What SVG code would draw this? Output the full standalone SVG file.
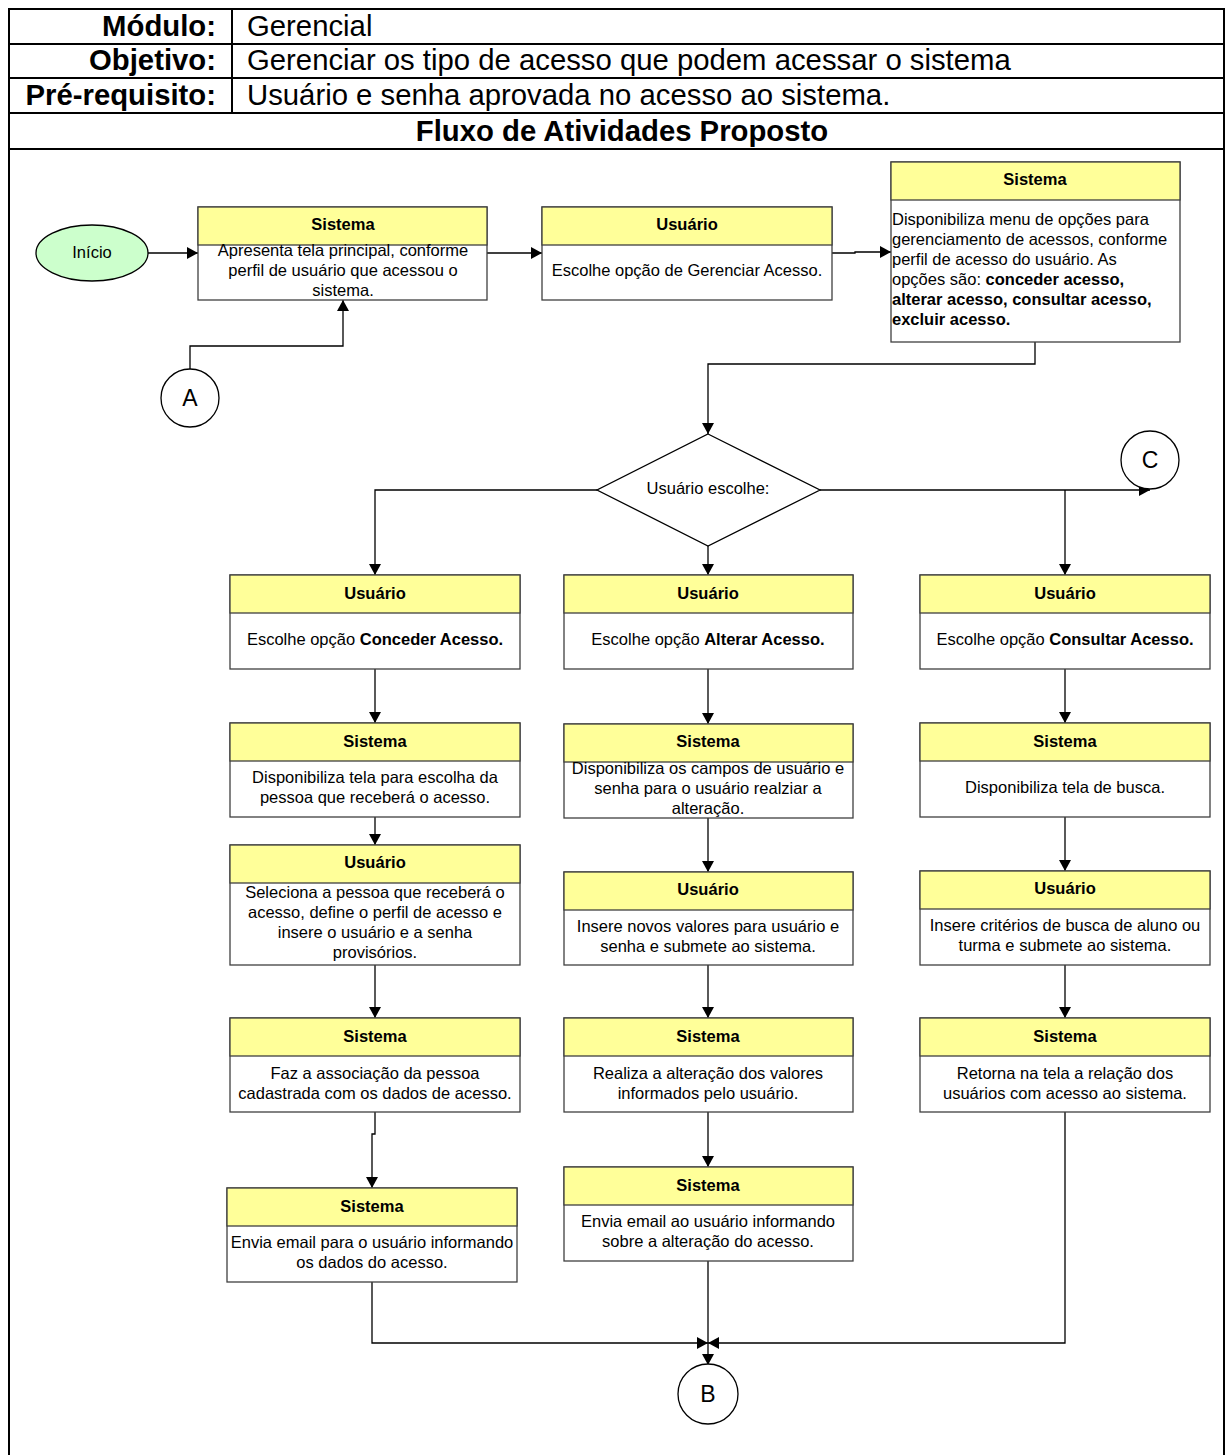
<svg xmlns="http://www.w3.org/2000/svg" width="1225" height="1455" viewBox="0 0 1225 1455">
<defs>
<marker id="arr" markerUnits="userSpaceOnUse" markerWidth="12" markerHeight="12" refX="11" refY="6" orient="auto">
<path d="M0,0 L11,6 L0,12 z" fill="#000"/>
</marker>
<style>
.frame{stroke:#000;stroke-width:2;fill:none}
.hl{font-family:"Liberation Sans",Arial,sans-serif;font-size:29.3px;font-weight:bold;text-anchor:end;fill:#000}
.hv{font-family:"Liberation Sans",Arial,sans-serif;font-size:29.3px;fill:#000}
.ht{font-family:"Liberation Sans",Arial,sans-serif;font-size:29.3px;font-weight:bold;text-anchor:middle;fill:#000}
.box{fill:#fff;stroke:#404040;stroke-width:1.3}
.hdr{fill:#ffff99;stroke:#404040;stroke-width:1.3}
.tt{font-family:"Liberation Sans",Arial,sans-serif;font-size:16.5px;font-weight:bold;text-anchor:middle;fill:#000}
.bt{font-family:"Liberation Sans",Arial,sans-serif;font-size:16.5px;text-anchor:middle;fill:#000}
.btl{font-family:"Liberation Sans",Arial,sans-serif;font-size:16.5px;fill:#000}
.b{font-weight:bold}
.con{stroke:#000;stroke-width:1.3;fill:none}
.arw{marker-end:url(#arr)}
.circ{fill:#fff;stroke:#000;stroke-width:1.3}
.ct{font-family:"Liberation Sans",Arial,sans-serif;font-size:23px;text-anchor:middle;fill:#000}
</style>
</defs>
<rect width="1225" height="1455" fill="#fff"/>
<g id="header">
<line class="frame" x1="9" y1="9" x2="1225" y2="9"/>
<line class="frame" x1="9" y1="44" x2="1225" y2="44"/>
<line class="frame" x1="9" y1="78" x2="1225" y2="78"/>
<line class="frame" x1="9" y1="113" x2="1225" y2="113"/>
<line class="frame" x1="9" y1="149" x2="1225" y2="149"/>
<line class="frame" x1="9" y1="8" x2="9" y2="1455"/>
<line class="frame" x1="1224" y1="8" x2="1224" y2="1455"/>
<line class="frame" x1="232" y1="9" x2="232" y2="113"/>
<text class="hl" x="216" y="36">Módulo:</text>
<text class="hv" x="247" y="36">Gerencial</text>
<text class="hl" x="216" y="70">Objetivo:</text>
<text class="hv" x="247" y="70">Gerenciar os tipo de acesso que podem acessar o sistema</text>
<text class="hl" x="216" y="105">Pré-requisito:</text>
<text class="hv" x="247" y="105">Usuário e senha aprovada no acesso ao sistema.</text>
<text class="ht" x="622" y="141">Fluxo de Atividades Proposto</text>
</g>
<g id="connectors">
<line class="con arw" x1="148" y1="253" x2="198" y2="253"/>
<line class="con arw" x1="487" y1="253" x2="542" y2="253"/>
<polyline class="con arw" points="832,253 855,253 855,252 891,252"/>
<polyline class="con arw" points="190,369 190,346 343,346 343,300"/>
<polyline class="con arw" points="1035,342 1035,364 708,364 708,434"/>
<polyline class="con arw" points="597,490 375,490 375,575"/>
<line class="con arw" x1="708" y1="546" x2="708" y2="575"/>
<line class="con arw" x1="820" y1="490" x2="1150" y2="490"/>
<line class="con arw" x1="1065" y1="490" x2="1065" y2="575"/>
<line class="con arw" x1="375" y1="669" x2="375" y2="723"/>
<line class="con arw" x1="375" y1="817" x2="375" y2="845"/>
<line class="con arw" x1="375" y1="965" x2="375" y2="1018"/>
<polyline class="con arw" points="375,1112 375,1134 372,1134 372,1188"/>
<polyline class="con arw" points="372,1282 372,1343 708,1343"/>
<line class="con arw" x1="708" y1="669" x2="708" y2="724"/>
<line class="con arw" x1="708" y1="818" x2="708" y2="872"/>
<line class="con arw" x1="708" y1="965" x2="708" y2="1018"/>
<line class="con arw" x1="708" y1="1112" x2="708" y2="1167"/>
<line class="con arw" x1="708" y1="1261" x2="708" y2="1365"/>
<line class="con arw" x1="1065" y1="669" x2="1065" y2="723"/>
<line class="con arw" x1="1065" y1="817" x2="1065" y2="871"/>
<line class="con arw" x1="1065" y1="965" x2="1065" y2="1018"/>
<polyline class="con arw" points="1065,1112 1065,1343 708,1343"/>
</g>
<g id="inicio">
<ellipse cx="92" cy="253" rx="56" ry="28" fill="#ccffcc" stroke="#000" stroke-width="1.3"/>
<text class="bt" x="92" y="258">Início</text>
</g>
<g id="connA">
<circle class="circ" cx="190" cy="398" r="29"/>
<text class="ct" x="190" y="406">A</text>
</g>
<g id="connC">
<circle class="circ" cx="1150" cy="460" r="29"/>
<text class="ct" x="1150" y="468">C</text>
</g>
<g id="connB">
<circle class="circ" cx="708" cy="1394" r="30"/>
<text class="ct" x="708" y="1402">B</text>
</g>
<g id="n1">
<rect class="box" x="198" y="207" width="289" height="93"/>
<rect class="hdr" x="198" y="207" width="289" height="38"/>
<text class="tt" x="343" y="230">Sistema</text>
<text class="bt" x="343" y="256">Apresenta tela principal, conforme</text>
<text class="bt" x="343" y="276">perfil de usuário que acessou o</text>
<text class="bt" x="343" y="296">sistema.</text>
</g>
<g id="n2">
<rect class="box" x="542" y="207" width="290" height="93"/>
<rect class="hdr" x="542" y="207" width="290" height="38"/>
<text class="tt" x="687" y="230">Usuário</text>
<text class="bt" x="687" y="276">Escolhe opção de Gerenciar Acesso.</text>
</g>
<g id="n3">
<rect class="box" x="891" y="162" width="289" height="180"/>
<rect class="hdr" x="891" y="162" width="289" height="38"/>
<text class="tt" x="1035" y="185">Sistema</text>
<text class="btl" x="892" y="225">Disponibiliza menu de opções para</text>
<text class="btl" x="892" y="245">gerenciamento de acessos, conforme</text>
<text class="btl" x="892" y="265">perfil de acesso do usuário. As</text>
<text class="btl" x="892" y="285">opções são: <tspan class="b">conceder acesso,</tspan></text>
<text class="btl b" x="892" y="305">alterar acesso, consultar acesso,</text>
<text class="btl b" x="892" y="325">excluir acesso.</text>
</g>
<g id="decisao">
<polygon points="708,434 820,490 708,546 597,490" fill="#fff" stroke="#000" stroke-width="1.3"/>
<text class="bt" x="708" y="494">Usuário escolhe:</text>
</g>
<g id="l1">
<rect class="box" x="230" y="575" width="290" height="94"/>
<rect class="hdr" x="230" y="575" width="290" height="38"/>
<text class="tt" x="375" y="599">Usuário</text>
<text class="bt" x="375" y="645">Escolhe opção <tspan class="b">Conceder Acesso.</tspan></text>
</g>
<g id="l2">
<rect class="box" x="230" y="723" width="290" height="94"/>
<rect class="hdr" x="230" y="723" width="290" height="38"/>
<text class="tt" x="375" y="747">Sistema</text>
<text class="bt" x="375" y="783">Disponibiliza tela para escolha da</text>
<text class="bt" x="375" y="803">pessoa que receberá o acesso.</text>
</g>
<g id="l3">
<rect class="box" x="230" y="845" width="290" height="120"/>
<rect class="hdr" x="230" y="845" width="290" height="38"/>
<text class="tt" x="375" y="868">Usuário</text>
<text class="bt" x="375" y="898">Seleciona a pessoa que receberá o</text>
<text class="bt" x="375" y="918">acesso, define o perfil de acesso e</text>
<text class="bt" x="375" y="938">insere o usuário e a senha</text>
<text class="bt" x="375" y="958">provisórios.</text>
</g>
<g id="l4">
<rect class="box" x="230" y="1018" width="290" height="94"/>
<rect class="hdr" x="230" y="1018" width="290" height="38"/>
<text class="tt" x="375" y="1042">Sistema</text>
<text class="bt" x="375" y="1079">Faz a associação da pessoa</text>
<text class="bt" x="375" y="1099">cadastrada com os dados de acesso.</text>
</g>
<g id="l5">
<rect class="box" x="227" y="1188" width="290" height="94"/>
<rect class="hdr" x="227" y="1188" width="290" height="38"/>
<text class="tt" x="372" y="1212">Sistema</text>
<text class="bt" x="372" y="1248">Envia email para o usuário informando</text>
<text class="bt" x="372" y="1268">os dados do acesso.</text>
</g>
<g id="m1">
<rect class="box" x="564" y="575" width="289" height="94"/>
<rect class="hdr" x="564" y="575" width="289" height="38"/>
<text class="tt" x="708" y="599">Usuário</text>
<text class="bt" x="708" y="645">Escolhe opção <tspan class="b">Alterar Acesso.</tspan></text>
</g>
<g id="m2">
<rect class="box" x="564" y="724" width="289" height="94"/>
<rect class="hdr" x="564" y="724" width="289" height="38"/>
<text class="tt" x="708" y="747">Sistema</text>
<text class="bt" x="708" y="774">Disponibiliza os campos de usuário e</text>
<text class="bt" x="708" y="794">senha para o usuário realziar a</text>
<text class="bt" x="708" y="814">alteração.</text>
</g>
<g id="m3">
<rect class="box" x="564" y="872" width="289" height="93"/>
<rect class="hdr" x="564" y="872" width="289" height="38"/>
<text class="tt" x="708" y="895">Usuário</text>
<text class="bt" x="708" y="932">Insere novos valores para usuário e</text>
<text class="bt" x="708" y="952">senha e submete ao sistema.</text>
</g>
<g id="m4">
<rect class="box" x="564" y="1018" width="289" height="94"/>
<rect class="hdr" x="564" y="1018" width="289" height="38"/>
<text class="tt" x="708" y="1042">Sistema</text>
<text class="bt" x="708" y="1079">Realiza a alteração dos valores</text>
<text class="bt" x="708" y="1099">informados pelo usuário.</text>
</g>
<g id="m5">
<rect class="box" x="564" y="1167" width="289" height="94"/>
<rect class="hdr" x="564" y="1167" width="289" height="38"/>
<text class="tt" x="708" y="1191">Sistema</text>
<text class="bt" x="708" y="1227">Envia email ao usuário informando</text>
<text class="bt" x="708" y="1247">sobre a alteração do acesso.</text>
</g>
<g id="r1">
<rect class="box" x="920" y="575" width="290" height="94"/>
<rect class="hdr" x="920" y="575" width="290" height="38"/>
<text class="tt" x="1065" y="599">Usuário</text>
<text class="bt" x="1065" y="645">Escolhe opção <tspan class="b">Consultar Acesso.</tspan></text>
</g>
<g id="r2">
<rect class="box" x="920" y="723" width="290" height="94"/>
<rect class="hdr" x="920" y="723" width="290" height="38"/>
<text class="tt" x="1065" y="747">Sistema</text>
<text class="bt" x="1065" y="793">Disponibiliza tela de busca.</text>
</g>
<g id="r3">
<rect class="box" x="920" y="871" width="290" height="94"/>
<rect class="hdr" x="920" y="871" width="290" height="38"/>
<text class="tt" x="1065" y="894">Usuário</text>
<text class="bt" x="1065" y="931">Insere critérios de busca de aluno  ou</text>
<text class="bt" x="1065" y="951">turma e submete ao sistema.</text>
</g>
<g id="r4">
<rect class="box" x="920" y="1018" width="290" height="94"/>
<rect class="hdr" x="920" y="1018" width="290" height="38"/>
<text class="tt" x="1065" y="1042">Sistema</text>
<text class="bt" x="1065" y="1079">Retorna na tela a relação dos</text>
<text class="bt" x="1065" y="1099">usuários com acesso ao sistema.</text>
</g>
</svg>
